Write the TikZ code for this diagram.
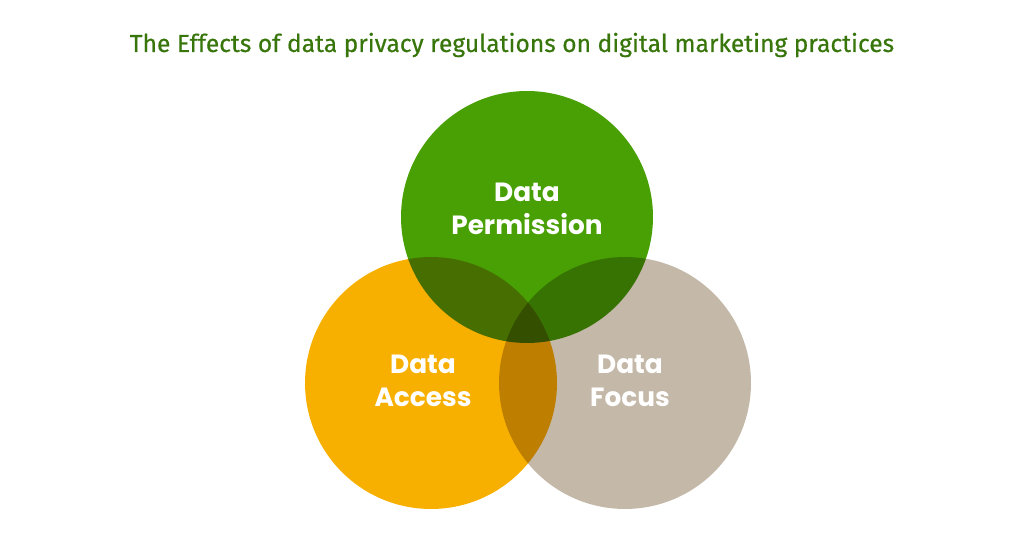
\documentclass[tikz,border=0pt]{standalone}
\usepackage{fontspec}
\setmainfont{Poppins}
\newfontfamily\titlefont[FakeBold=0.5]{Fira Sans}
\usepackage{xcolor}
\usetikzlibrary{positioning}

\definecolor{titlegreen}{HTML}{38760C}
\definecolor{permgreen}{HTML}{48A004}
\definecolor{accessorange}{HTML}{F8B000}
\definecolor{focusbrown}{HTML}{C4B8A8}

\begin{document}
\begin{tikzpicture}[
  x=0.02cm, y=-0.02cm,
  venn/.style={circle, minimum size=5.04cm, inner sep=0pt, draw=none},
  vennlabel/.style={align=center, text=white,
    font=\fontsize{15}{18.5}\selectfont\bfseries}
]
\useasboundingbox (0,0) rectangle (1024,546);

% Title
\node[font=\titlefont\fontsize{14}{16}\selectfont, text=titlegreen] (title) at (512,45)
  {The Effects of data privacy regulations on digital marketing practices};

% Circles
\begin{scope}[blend group=multiply]
  \node[venn, fill=accessorange] (access) at (431,383) {};
  \node[venn, fill=focusbrown]   (focus)  at (625,383) {};
  \node[venn, fill=permgreen]    (perm)   at (527,217) {};
\end{scope}

% Labels
\node[vennlabel] (permlab)   at (527,209) {Data\\Permission};
\node[vennlabel] (accesslab) at (423,381) {Data\\Access};
\node[vennlabel] (focuslab)  at (630,381) {Data\\Focus};

\end{tikzpicture}
\end{document}
